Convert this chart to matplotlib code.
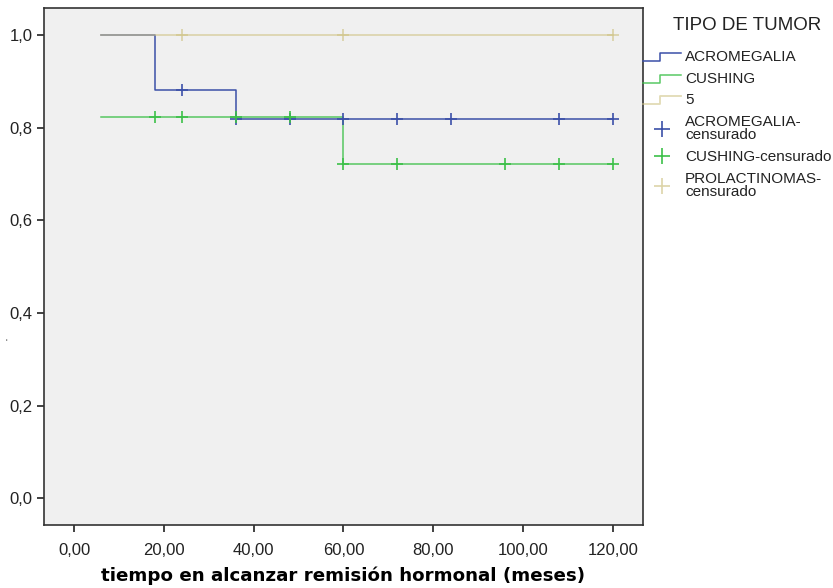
import numpy as np
import matplotlib
matplotlib.use('Agg')
import matplotlib.pyplot as plt
from matplotlib.lines import Line2D
from matplotlib.legend_handler import HandlerBase

plt.rcParams['font.family'] = ['Liberation Sans', 'DejaVu Sans']

# Kaplan-Meier curves by tumour type
acro_t = [6, 18, 36, 120]
acro_s = [1.0, 0.882, 0.819, 0.819]
acro_cens_t = [24, 36, 48, 60, 72, 84, 108, 120]

cush_t = [6, 60, 120]
cush_s = [0.823, 0.722, 0.722]
cush_cens_t = [18, 24, 36, 48, 60, 72, 96, 108, 120]

prol_t = [6, 120]
prol_s = [1.0, 1.0]
prol_cens_t = [24, 60, 120]

xticks = [0, 20, 40, 60, 80, 100, 120]
yticks = [0.0, 0.2, 0.4, 0.6, 0.8, 1.0]

BLUE = '#3b50a8'
GREEN = '#3cc049'
TAN = '#cfc385'


def surv_at(t, times, surv):
    idx = np.searchsorted(times, t, side='right') - 1
    return np.asarray(surv)[idx]


class HandlerStep(HandlerBase):
    # little step glyph like the SPSS legend
    def create_artists(self, legend, orig_handle, xdescent, ydescent,
                       width, height, fontsize, trans):
        x0 = -xdescent
        xs = [x0, x0 + width * 0.45, x0 + width * 0.45, x0 + width]
        ys = [height * 0.0, height * 0.0, height * 0.75, height * 0.75]
        ys = [y - ydescent for y in ys]
        line = Line2D(xs, ys, color=orig_handle.get_color(),
                      lw=orig_handle.get_linewidth(),
                      alpha=orig_handle.get_alpha(), transform=trans)
        return [line]


fig = plt.figure(figsize=(8.33, 5.88), dpi=100)
ax = fig.add_axes([0.0528, 0.107, 0.7191, 0.879])
ax.set_facecolor('#f0f0f0')

l_acro, = ax.step(acro_t, acro_s, where='post', color=BLUE, lw=1.1)
l_cush, = ax.step(cush_t, cush_s, where='post', color=GREEN, lw=1.1, alpha=0.85)
l_prol, = ax.step(prol_t, prol_s, where='post', color=TAN, lw=1.3, alpha=0.6)

c_acro, = ax.plot(acro_cens_t, surv_at(acro_cens_t, acro_t, acro_s), ls='none',
                  marker='+', ms=8, mew=1.2, color=BLUE)
c_cush, = ax.plot(cush_cens_t, surv_at(cush_cens_t, cush_t, cush_s), ls='none',
                  marker='+', ms=8, mew=1.2, color=GREEN)
c_prol, = ax.plot(prol_cens_t, surv_at(prol_cens_t, prol_t, prol_s), ls='none',
                  marker='+', ms=8, mew=1.2, color=TAN, alpha=0.7)

ax.set_xlim(-6.7, 126.7)
ax.set_ylim(-0.058, 1.058)
ax.set_xticks(xticks)
ax.set_xticklabels([f'{v:.2f}'.replace('.', ',') for v in xticks])
ax.set_yticks(yticks)
ax.set_yticklabels([f'{v:.1f}'.replace('.', ',') for v in yticks])
ax.tick_params(direction='out', length=5, width=1.3, color='#333333',
               labelsize=12, labelcolor='#222222', pad=3)
ax.tick_params(axis='x', pad=8)
for sp in ax.spines.values():
    sp.set_color('#333333')
    sp.set_linewidth(1.2)

ax.set_xlabel('tiempo en alcanzar remisión hormonal (meses)', fontsize=13.15,
              fontweight='bold', family='DejaVu Sans', labelpad=6)
fig.text(0.006, 0.41, 'ˈ', fontsize=8, color='#222222')

handles = [l_acro, l_cush, l_prol, c_acro, c_cush, c_prol]
labels = ['ACROMEGALIA', 'CUSHING', '5', 'ACROMEGALIA-\ncensurado',
          'CUSHING-censurado', 'PROLACTINOMAS-\ncensurado']
leg = fig.legend(handles, labels, loc='upper left',
                 bbox_to_anchor=(0.772, 0.915), frameon=False, fontsize=11,
                 handler_map={l_acro: HandlerStep(), l_cush: HandlerStep(),
                              l_prol: HandlerStep()},
                 markerscale=1.5, handlelength=2.45, handletextpad=0.3,
                 labelspacing=0.5, borderaxespad=0, borderpad=0)
for t in leg.get_texts():
    t.set_color('#222222')
    t.set_linespacing(0.95)
fig.text(0.808, 0.957, 'TIPO DE TUMOR', fontsize=13.5, color='#222222',
         va='center', ha='left')

fig.savefig('out.png', dpi=100, facecolor='white')
